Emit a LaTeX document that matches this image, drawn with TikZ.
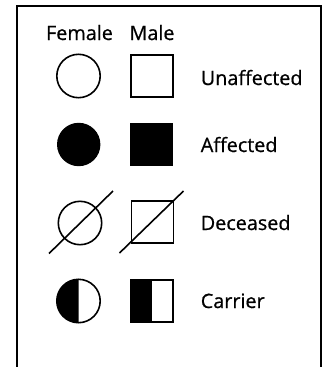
\documentclass[tikz,border=0pt]{standalone}
\usepackage{fontspec}
\setmainfont{Open Sans}[FakeBold=0.7]
\begin{document}
\begin{tikzpicture}[x=1pt, y=-1pt, line width=1.6pt,
    lbl/.style={font=\fontsize{19.8}{23}\selectfont, anchor=base west, inner sep=0pt},
    head/.style={font=\fontsize{19.8}{23}\selectfont, anchor=base, inner sep=0pt}]
    \useasboundingbox (0,0) rectangle (323,367);

    % frame, open at the bottom
    \draw[line width=2pt] (17,367) -- (17,6) -- (321,6) -- (321,367);

    \node[head] (female) at (79.5,40) {Female};
    \node[head] (male) at (152,40) {Male};

    % unaffected
    \coordinate (uF) at (78.5,76);
    \coordinate (uM) at (152,76);
    \draw (uF) circle[radius=21.7];
    \draw ([shift={(-21,-21)}]uM) rectangle ([shift={(21,21)}]uM);
    \node[lbl] (unaff) at (200,85) {Unaffected};

    % affected
    \coordinate (aF) at (78.7,144.5);
    \coordinate (aM) at (151.5,144.5);
    \fill (aF) circle[radius=21.7];
    \fill ([shift={(-21.5,-21.5)}]aM) rectangle ([shift={(21.5,21.5)}]aM);
    \node[lbl] (aff) at (200,152) {Affected};

    % deceased
    \coordinate (dF) at (80,223);
    \coordinate (dM) at (152.5,222);
    \draw (dF) circle[radius=21.7];
    \draw ([shift={(-31,30.5)}]dF) -- ([shift={(33,-32)}]dF);
    \draw ([shift={(-21,-21)}]dM) rectangle ([shift={(21,21)}]dM);
    \draw ([shift={(-33,31)}]dM) -- ([shift={(31,-31)}]dM);
    \node[lbl] (dec) at (200,230) {Deceased};

    % carrier
    \coordinate (cF) at (78.5,301);
    \coordinate (cM) at (152,301);
    \fill ([shift={(0,-21.7)}]cF) arc[start angle=-90, end angle=-270, radius=21.7] -- cycle;
    \draw (cF) circle[radius=21.7];
    \fill ([shift={(-21,-21)}]cM) rectangle ([shift={(0,21)}]cM);
    \draw ([shift={(-21,-21)}]cM) rectangle ([shift={(21,21)}]cM);
    \node[lbl] (car) at (200,308) {Carrier};
\end{tikzpicture}
\end{document}
